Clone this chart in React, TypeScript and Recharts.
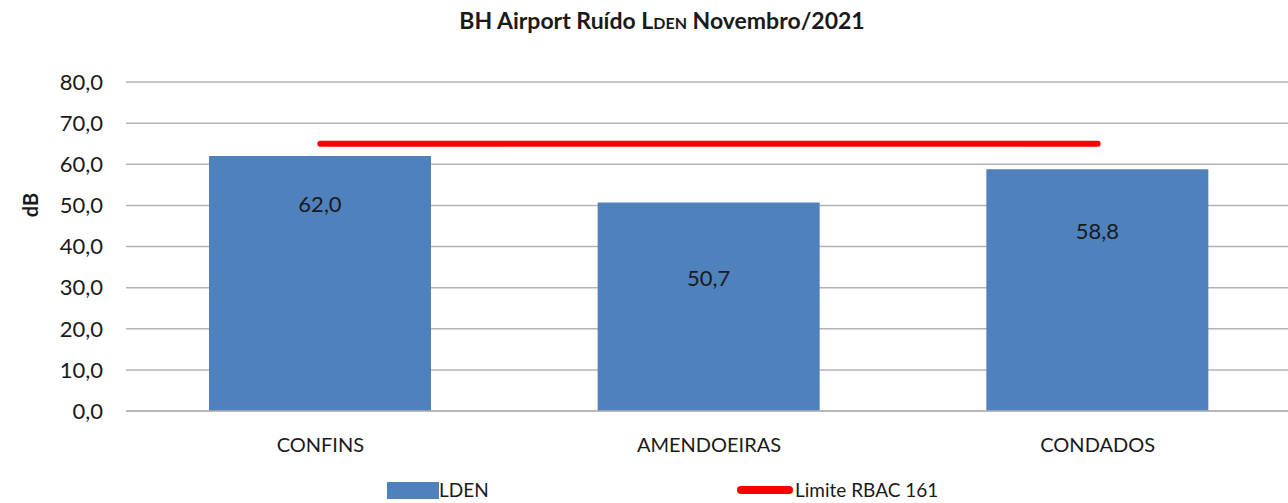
import {
  BarChart,
  Bar,
  Line,
  XAxis,
  YAxis,
  CartesianGrid,
  Legend,
  LabelList,
} from "recharts";

// locais de medição
const categories = ["CONFINS", "AMENDOEIRAS", "CONDADOS"];
// LDEN medido (dB)
const ldenValues = [62.0, 50.7, 58.8];
// limite RBAC 161 (dB)
const limitValues = [65, 65, 65];
const yTicks = [0, 10, 20, 30, 40, 50, 60, 70, 80];

const data = categories.map((name, i) => ({
  name,
  lden: ldenValues[i],
  limite: limitValues[i],
}));

const FONT = "Lato, 'Open Sans', sans-serif";
const BLUE = "#4F81BD";
const RED = "#FF0000";
// distância do rótulo ao topo da barra (px), como no original do Excel
const LABEL_DROP = [47, 75, 61];

const fmt = (v: number) => v.toFixed(1).replace(".", ",");

function BarValue(props: any) {
  const { x, y, width, value, index } = props;
  return (
    <text
      x={x + width / 2}
      y={y + LABEL_DROP[index]}
      textAnchor="middle"
      dominantBaseline="central"
      fontFamily={FONT}
      fontSize={22}
      fill="#1a1a1a"
    >
      {fmt(value)}
    </text>
  );
}

function LegendBox() {
  return (
    <div
      style={{
        display: "flex",
        alignItems: "center",
        paddingLeft: 387,
        height: 22,
        fontFamily: FONT,
        fontSize: 19,
        lineHeight: "22px",
        color: "#1a1a1a",
      }}
    >
      <div style={{ display: "flex", alignItems: "center", width: 350 }}>
        <span style={{ width: 52, height: 17, background: BLUE, display: "inline-block" }} />
        <span>LDEN</span>
      </div>
      <div style={{ display: "flex", alignItems: "center" }}>
        <span
          style={{
            width: 56,
            height: 8,
            borderRadius: 4,
            background: RED,
            display: "inline-block",
            marginRight: 2,
          }}
        />
        <span>Limite RBAC 161</span>
      </div>
    </div>
  );
}

export default function App() {
  return (
    <div
      style={{
        position: "absolute",
        left: 0,
        top: 0,
        width: 1288,
        height: 503,
        overflow: "hidden",
        background: "#fff",
      }}
    >
      <div
        style={{
          position: "absolute",
          top: 6,
          left: 0,
          width: 1324,
          textAlign: "center",
          fontFamily: FONT,
          fontWeight: 700,
          fontSize: 23,
          color: "#1a1a1a",
        }}
      >
        BH Airport Ruído{" "}
        <span style={{ fontVariant: "small-caps" }}>Lden</span> Novembro/2021
      </div>

      <BarChart
        width={1292}
        height={503}
        data={data}
        margin={{ top: 82, right: 0, bottom: 30, left: 16 }}
      >
        <CartesianGrid vertical={false} stroke="#b3b3b3" strokeWidth={1.5} />

        <XAxis
          dataKey="name"
          height={40}
          tickLine={false}
          tickSize={0}
          tickMargin={27}
          axisLine={{ stroke: "#b3b3b3", strokeWidth: 1.5 }}
          tick={{ fontFamily: FONT, fontSize: 20, fill: "#1a1a1a" }}
        />

        <YAxis
          width={110}
          domain={[0, 80]}
          ticks={yTicks}
          interval={0}
          tickLine={false}
          axisLine={false}
          tickSize={0}
          tickMargin={23}
          tickFormatter={fmt}
          tick={{ fontFamily: FONT, fontSize: 22, fill: "#1a1a1a" }}
          label={{
            value: "dB",
            angle: -90,
            position: "insideLeft",
            offset: 0,
            content: () => (
              <text
                x={30}
                y={205}
                transform="rotate(-90 30 205)"
                textAnchor="middle"
                dominantBaseline="central"
                fontFamily={FONT}
                fontWeight={700}
                fontSize={20}
                fill="#1a1a1a"
              >
                dB
              </text>
            ),
          }}
        />

        <Legend
          verticalAlign="bottom"
          content={() => <LegendBox />}
          wrapperStyle={{ left: 0, top: 479, width: 1288, height: 22 }}
        />

        {/* barras LDEN */}
        <Bar dataKey="lden" name="LDEN" fill={BLUE} barSize={222} isAnimationActive={false}>
          <LabelList dataKey="lden" content={<BarValue />} />
        </Bar>

        {/* limite RBAC 161 */}
        <Line
          dataKey="limite"
          name="Limite RBAC 161"
          stroke={RED}
          strokeWidth={6}
          strokeLinecap="round"
          dot={false}
          activeDot={false}
          isAnimationActive={false}
        />
      </BarChart>
    </div>
  );
}
